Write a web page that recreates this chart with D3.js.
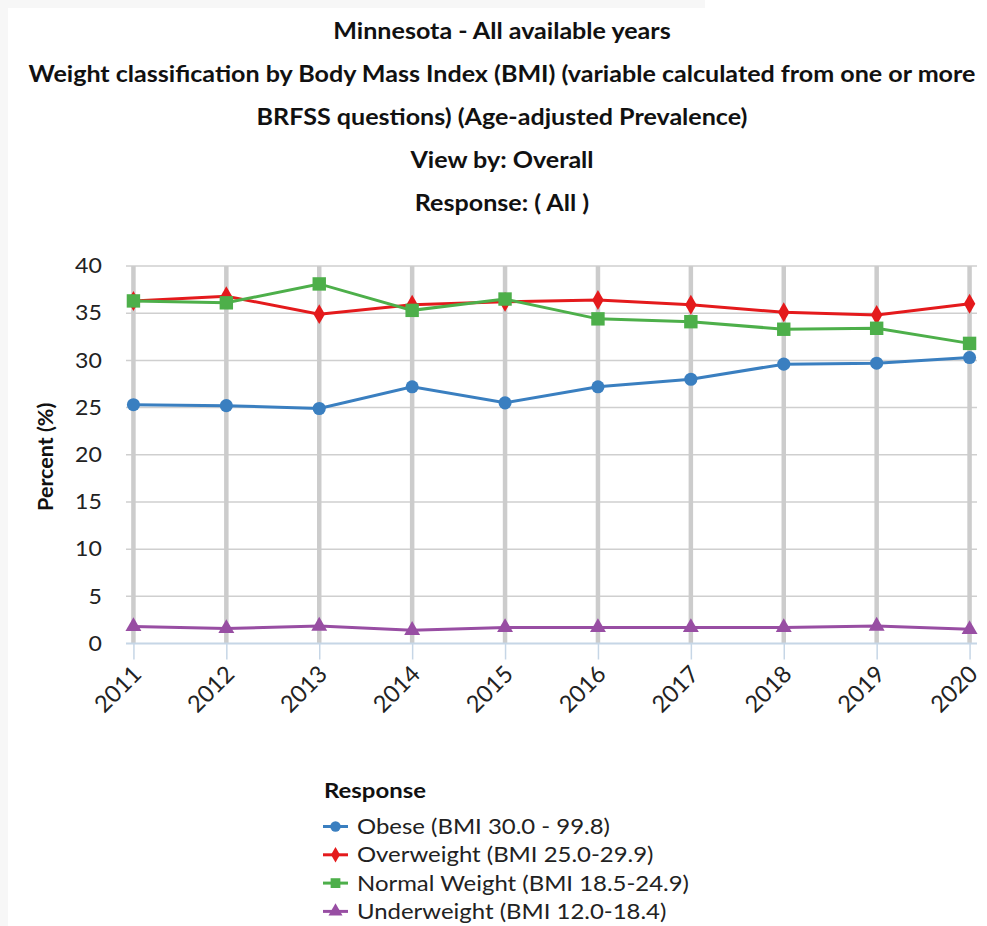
<!DOCTYPE html>
<html><head><meta charset="utf-8">
<script src="https://cdn.jsdelivr.net/npm/d3@7"></script>
<style>
html,body{margin:0;padding:0;background:#fff;}
svg{display:block;font-family:Lato, "Open Sans", sans-serif;}
</style></head>
<body><svg id="c" width="987" height="926"></svg>
<script>
const titleLines = ["Minnesota - All available years",
  "Weight classification by Body Mass Index (BMI) (variable calculated from one or more",
  "BRFSS questions) (Age-adjusted Prevalence)",
  "View by: Overall",
  "Response: ( All )"];
const years = ["2011","2012","2013","2014","2015","2016","2017","2018","2019","2020"];
const yTicks = [0,5,10,15,20,25,30,35,40];
const obese = [25.3,25.2,24.9,27.2,25.5,27.2,28.0,29.6,29.7,30.3];
const overweight = [36.3,36.8,34.9,35.9,36.2,36.4,35.9,35.1,34.8,36.0];
const normal = [36.3,36.1,38.1,35.3,36.5,34.4,34.1,33.3,33.4,31.8];
const underweight = [1.8,1.6,1.85,1.4,1.7,1.7,1.7,1.7,1.85,1.5];
const seriesNames = ["Obese (BMI 30.0 - 99.8)","Overweight (BMI 25.0-29.9)","Normal Weight (BMI 18.5-24.9)","Underweight (BMI 12.0-18.4)"];
const seriesColors = ["#3a7fc0","#e41a1c","#4daf4a","#984ea3"];
const seriesShapes = [d3.symbolCircle, d3.symbolDiamond, d3.symbolSquare, d3.symbolTriangle];
const seriesValues = [obese, overweight, normal, underweight];

const SX = 1.14; // horizontal stretch of text seen in the reference
const svg = d3.select("#c");
svg.append("rect").attr("x",0).attr("y",0).attr("width",705).attr("height",8).attr("fill","#f7f7f7");
svg.append("rect").attr("x",0).attr("y",0).attr("width",8).attr("height",926).attr("fill","#f7f7f7");

svg.append("g").selectAll("text").data(titleLines).join("text")
  .attr("transform",(d,i)=>`translate(502,${38.5+i*43.2}) scale(${SX},1)`)
  .attr("text-anchor","middle").attr("font-size",22).attr("font-weight","bold").attr("fill","#111")
  .text(d=>d);

const pL=126, pR=977, pT=266, pB=643.5;
const x = d3.scalePoint().domain(years).range([pL,pR]).padding(0.08);
const y = d3.scaleLinear().domain([0,40]).range([pB,pT]);

svg.append("g").selectAll("line").data(yTicks.filter(t=>t>0)).join("line")
  .attr("x1",pL).attr("x2",pR).attr("y1",d=>y(d)).attr("y2",d=>y(d))
  .attr("stroke","#cfcfcf").attr("stroke-width",1.5);
svg.append("g").selectAll("line").data(years).join("line")
  .attr("x1",d=>x(d)).attr("x2",d=>x(d)).attr("y1",pT).attr("y2",pB)
  .attr("stroke","#cccccc").attr("stroke-width",4.5);

const xAxis = svg.append("g").attr("transform",`translate(0,${pB})`)
  .call(d3.axisBottom(x).tickSize(16).tickSizeOuter(0));
xAxis.select(".domain").remove();
xAxis.append("line").attr("x1",pL).attr("x2",pR).attr("y1",0).attr("y2",0)
  .attr("stroke","#c6d6e6").attr("stroke-width",2);
xAxis.selectAll(".tick line").attr("stroke","#c6d6e6").attr("stroke-width",1.5);
xAxis.selectAll(".tick text").attr("font-size",23.5).attr("fill","#222")
  .attr("font-family","Lato, sans-serif")
  .attr("text-anchor","end").attr("dy",0).attr("y",0)
  .attr("transform","translate(9,32) rotate(-45)");

const yAxis = svg.append("g").attr("transform",`translate(${pL},0)`)
  .call(d3.axisLeft(y).tickValues(yTicks).tickSize(0).tickPadding(22));
yAxis.select(".domain").remove();
yAxis.selectAll(".tick text").attr("font-size",21).attr("fill","#222").attr("font-family","Lato, sans-serif")
  .attr("transform","scale(1.1,1)");

svg.append("text").attr("transform",`translate(53,${(pT+pB)/2+2}) rotate(-90)`)
  .attr("text-anchor","middle").attr("font-size",21.5).attr("font-weight","bold").attr("fill","#111")
  .text("Percent (%)");

const line = d3.line().x((d,i)=>x(years[i])).y(d=>y(d));
const sizes = [135,115,180,110];
seriesValues.forEach((vals,si)=>{
  const g = svg.append("g");
  g.append("path").datum(vals).attr("d",line).attr("fill","none")
    .attr("stroke",seriesColors[si]).attr("stroke-width",3);
  g.selectAll("path.m").data(vals).join("path").attr("class","m")
    .attr("transform",(d,i)=>`translate(${x(years[i])},${y(d)})`)
    .attr("d",d3.symbol().type(seriesShapes[si]).size(sizes[si]))
    .attr("fill",seriesColors[si]);
});

const lg = svg.append("g");
lg.append("text").attr("transform",`translate(324,798) scale(${SX},1)`).attr("font-size",21).attr("font-weight","bold").attr("fill","#111").text("Response");
const lsizes=[85,70,95,85];
seriesNames.forEach((n,i)=>{
  const cy = 826.5 + i*28.3;
  lg.append("line").attr("x1",323).attr("x2",348).attr("y1",cy).attr("y2",cy)
    .attr("stroke",seriesColors[i]).attr("stroke-width",3);
  lg.append("path").attr("transform",`translate(335.5,${cy})`)
    .attr("d",d3.symbol().type(seriesShapes[i]).size(lsizes[i])).attr("fill",seriesColors[i]);
  lg.append("text").attr("transform",`translate(357,${cy+7.5}) scale(${SX},1)`).attr("font-size",21).attr("fill","#222").text(n);
});
</script></body></html>
